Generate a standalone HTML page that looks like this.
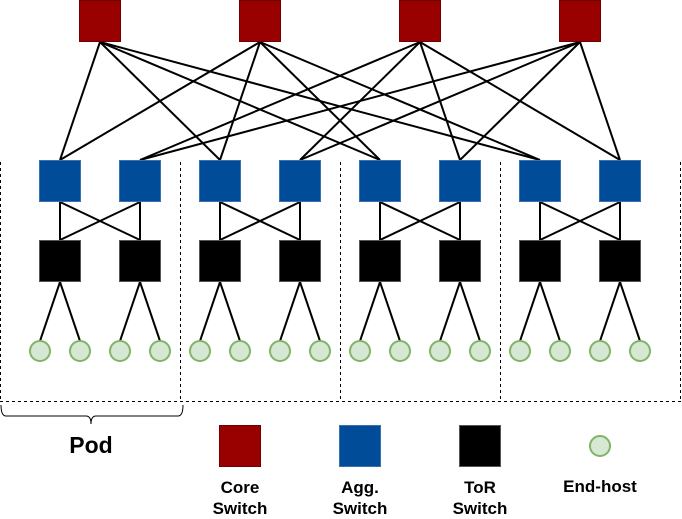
<!DOCTYPE html>
<html><head><style>body{margin:0;background:#fff}svg{display:block}text{font-family:"Liberation Sans",sans-serif;font-weight:bold;fill:#000}</style></head>
<body>
<svg width="682" height="519" viewBox="0 0 682 519" xmlns="http://www.w3.org/2000/svg">
<g stroke="#000" stroke-width="1" stroke-dasharray="3,3" fill="none">
<line x1="0.5" y1="162" x2="0.5" y2="402"/>
<line x1="180.5" y1="162" x2="180.5" y2="402"/>
<line x1="340.5" y1="162" x2="340.5" y2="402"/>
<line x1="500.5" y1="162" x2="500.5" y2="402"/>
<line x1="680.5" y1="162" x2="680.5" y2="402"/>
<line x1="0" y1="401.5" x2="681" y2="401.5"/>
</g>
<path d="M1,405 Q1,416 6,416 L86,416 Q91,416 91,424 Q91,416 96,416 L178,416 Q183,416 183,405" stroke="#000" fill="none" stroke-width="1"/>
<g stroke="#000" stroke-width="2">
<line x1="100" y1="42" x2="60" y2="160"/><line x1="100" y1="42" x2="220" y2="160"/><line x1="100" y1="42" x2="380" y2="160"/><line x1="100" y1="42" x2="540" y2="160"/>
<line x1="260" y1="42" x2="60" y2="160"/><line x1="260" y1="42" x2="220" y2="160"/><line x1="260" y1="42" x2="380" y2="160"/><line x1="260" y1="42" x2="540" y2="160"/>
<line x1="420" y1="42" x2="140" y2="160"/><line x1="420" y1="42" x2="300" y2="160"/><line x1="420" y1="42" x2="460" y2="160"/><line x1="420" y1="42" x2="620" y2="160"/>
<line x1="580" y1="42" x2="140" y2="160"/><line x1="580" y1="42" x2="300" y2="160"/><line x1="580" y1="42" x2="460" y2="160"/><line x1="580" y1="42" x2="620" y2="160"/>
</g>
<g id="pod">
<g stroke="#000" stroke-width="2">
<line x1="60" y1="202" x2="60" y2="240"/><line x1="140" y1="202" x2="140" y2="240"/>
<line x1="60" y1="202" x2="140" y2="240"/><line x1="140" y1="202" x2="60" y2="240"/>
<line x1="60" y1="282" x2="40" y2="341"/><line x1="60" y1="282" x2="80" y2="341"/>
<line x1="140" y1="282" x2="120" y2="341"/><line x1="140" y1="282" x2="160" y2="341"/>
</g>
<rect x="39.5" y="160.5" width="41" height="41" fill="#004C99" stroke="#3A6FB0"/>
<rect x="119.5" y="160.5" width="41" height="41" fill="#004C99" stroke="#3A6FB0"/>
<rect x="39.5" y="240.5" width="41" height="41" fill="#000" stroke="#555"/>
<rect x="119.5" y="240.5" width="41" height="41" fill="#000" stroke="#555"/>
<g fill="#d5e8d4" stroke="#82b366" stroke-width="2">
<circle cx="40" cy="351" r="10"/><circle cx="80" cy="351" r="10"/><circle cx="120" cy="351" r="10"/><circle cx="160" cy="351" r="10"/>
</g>
</g>
<use href="#pod" x="160"/><use href="#pod" x="320"/><use href="#pod" x="480"/>
<g fill="#990000" stroke="#6F0000">
<rect x="79.5" y="0.5" width="41" height="41"/><rect x="239.5" y="0.5" width="41" height="41"/>
<rect x="399.5" y="0.5" width="41" height="41"/><rect x="559.5" y="0.5" width="41" height="41"/>
<rect x="219.5" y="425.5" width="41" height="41"/>
</g>
<rect x="339.5" y="425.5" width="41" height="41" fill="#004C99" stroke="#3A6FB0"/>
<rect x="459.5" y="425.5" width="41" height="41" fill="#000" stroke="#555"/>
<circle cx="600" cy="446" r="10" fill="#d5e8d4" stroke="#82b366" stroke-width="2"/>
<text x="91" y="453" font-size="23" text-anchor="middle">Pod</text>
<g font-size="17" text-anchor="middle">
<text x="240" y="493">Core</text><text x="240" y="514">Switch</text>
<text x="360" y="493">Agg.</text><text x="360" y="514">Switch</text>
<text x="480" y="493">ToR</text><text x="480" y="514">Switch</text>
<text x="600" y="492">End-host</text>
</g>
</svg>
</body></html>
